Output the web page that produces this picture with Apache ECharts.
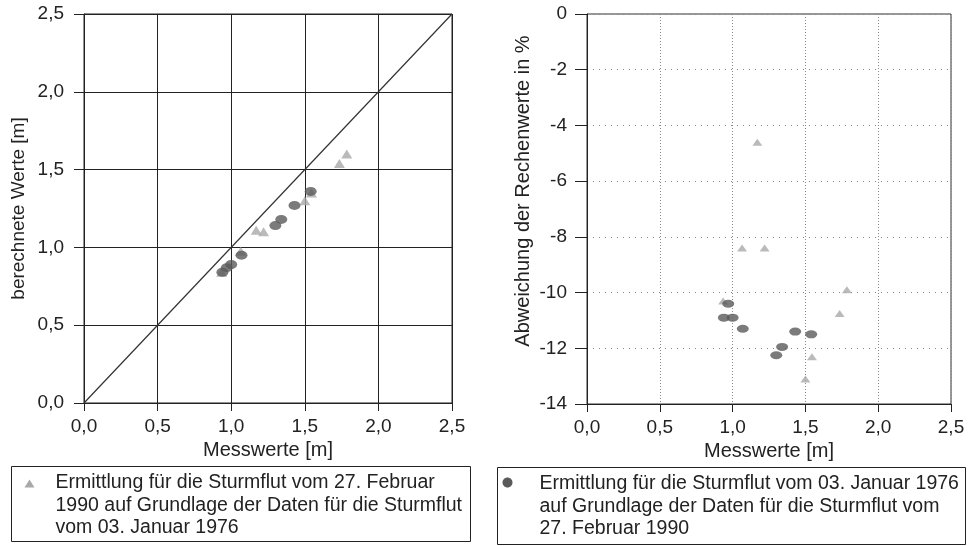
<!DOCTYPE html>
<html>
<head>
<meta charset="utf-8">
<script src="https://cdn.jsdelivr.net/npm/echarts@6/dist/echarts.min.js"></script>
<style>
html,body{margin:0;padding:0;background:#fff;}
#chart{width:972px;height:546px;}
</style>
</head>
<body>
<div id="chart"></div>
<script>
// ---- data ----
var xTicks = [0, 0.5, 1.0, 1.5, 2.0, 2.5];
var yTicksLeft = [0, 0.5, 1.0, 1.5, 2.0, 2.5];
var yTicksRight = [0, -2, -4, -6, -8, -10, -12, -14];

// Series 1976 (circles): Messwerte, berechnete Werte, Abweichung %
var mess1976 = [0.94, 0.97, 1.00, 1.07, 1.30, 1.34, 1.43, 1.54];
var calc1976 = [0.84, 0.87, 0.89, 0.95, 1.14, 1.18, 1.27, 1.36];
var dev1976  = [-10.9, -10.4, -10.9, -11.3, -12.25, -11.95, -11.4, -11.5];

// Series 1990 (triangles)
var mess1990 = [0.935, 1.065, 1.17, 1.22, 1.50, 1.545, 1.735, 1.785];
var calc1990 = [0.84, 0.975, 1.11, 1.10, 1.30, 1.35, 1.54, 1.60];
var dev1990  = [-10.3, -8.4, -4.6, -8.4, -13.1, -12.3, -10.75, -9.9];

// reference line 1:1
var diagX = [0, 2.5];
var diagY = [0, 2.5];

var legend1990 = ['Ermittlung für die Sturmflut vom 27. Februar', '1990 auf Grundlage der Daten für die Sturmflut', 'vom 03. Januar 1976'];
var legend1976 = ['Ermittlung für die Sturmflut vom 03. Januar 1976', 'auf Grundlage der Daten für die Sturmflut vom', '27. Februar 1990'];

function zip(a, b) { return a.map(function (v, i) { return [v, b[i]]; }); }

var FONT = '"Liberation Sans", Arial, sans-serif';
var fmt1 = function (v) { return v.toFixed(1).replace('.', ','); };

var chart = echarts.init(document.getElementById('chart'), null, {renderer: 'canvas'});

var option = {
  animation: false,
  backgroundColor: '#ffffff',
  textStyle: {fontFamily: FONT, color: '#222'},
  grid: [
    {left: 84, top: 14, width: 368, height: 389, show: true, borderColor: '#222', borderWidth: 1, backgroundColor: 'transparent'},
    {left: 587, top: 14, width: 364, height: 390, show: true, borderColor: '#333', borderWidth: 1, backgroundColor: 'transparent'}
  ],
  xAxis: [
    {
      gridIndex: 0, type: 'value', min: 0, max: 2.5, interval: 0.5,
      name: 'Messwerte [m]', nameLocation: 'middle', nameGap: 34,
      nameTextStyle: {fontSize: 20, color: '#222', fontFamily: FONT},
      axisLine: {onZero: false, lineStyle: {color: '#222', width: 1}},
      axisTick: {show: true, length: 8, lineStyle: {color: '#222'}},
      axisLabel: {formatter: fmt1, fontSize: 19, color: '#222', margin: 14, fontFamily: FONT, showMaxLabel: true},
      splitLine: {show: true, lineStyle: {color: '#222', width: 1}}
    },
    {
      gridIndex: 1, type: 'value', min: 0, max: 2.5, interval: 0.5,
      name: 'Messwerte [m]', nameLocation: 'middle', nameGap: 34,
      nameTextStyle: {fontSize: 20, color: '#222', fontFamily: FONT},
      axisLine: {onZero: false, lineStyle: {color: '#222', width: 1}},
      axisTick: {show: true, length: 8, lineStyle: {color: '#222'}},
      axisLabel: {formatter: fmt1, fontSize: 19, color: '#222', margin: 14, fontFamily: FONT, showMaxLabel: true},
      splitLine: {show: true, lineStyle: {color: '#888', width: 1, type: [1, 2]}}
    }
  ],
  yAxis: [
    {
      gridIndex: 0, type: 'value', min: 0, max: 2.5, interval: 0.5,
      name: 'berechnete Werte [m]', nameLocation: 'middle', nameGap: 56,
      nameTextStyle: {fontSize: 19, color: '#222', fontFamily: FONT},
      axisLine: {onZero: false, lineStyle: {color: '#222', width: 1}},
      axisTick: {show: true, length: 10, lineStyle: {color: '#222'}},
      axisLabel: {formatter: fmt1, fontSize: 19, color: '#222', margin: 20, fontFamily: FONT},
      splitLine: {show: true, lineStyle: {color: '#222', width: 1}}
    },
    {
      gridIndex: 1, type: 'value', min: -14, max: 0, interval: 2,
      name: 'Abweichung der Rechenwerte in %', nameLocation: 'middle', nameGap: 54,
      nameTextStyle: {fontSize: 20, color: '#222', fontFamily: FONT, padding: [0, 0, 0, 36]},
      axisLine: {onZero: false, lineStyle: {color: '#222', width: 1}},
      axisTick: {show: true, length: 12, lineStyle: {color: '#222'}},
      axisLabel: {fontSize: 19, color: '#222', margin: 20, fontFamily: FONT},
      splitLine: {show: true, lineStyle: {color: '#888', width: 1, type: [1, 5]}}
    }
  ],
  series: [
    {
      name: '1:1', type: 'line', xAxisIndex: 0, yAxisIndex: 0,
      data: zip(diagX, diagY), symbol: 'none', silent: true,
      lineStyle: {color: '#333', width: 1.2}, z: 3
    },
    {
      name: 'Sturmflut 27. Februar 1990', type: 'scatter', xAxisIndex: 0, yAxisIndex: 0,
      data: zip(mess1990, calc1990), symbol: 'triangle', symbolSize: [11, 9],
      itemStyle: {color: '#a9a9a9'}, z: 4
    },
    {
      name: 'Sturmflut 03. Januar 1976', type: 'scatter', xAxisIndex: 0, yAxisIndex: 0,
      data: zip(mess1976, calc1976), symbol: 'circle', symbolSize: [12, 9],
      itemStyle: {color: '#5a5a5a'}, z: 5
    },
    {
      name: 'Sturmflut 27. Februar 1990', type: 'scatter', xAxisIndex: 1, yAxisIndex: 1,
      data: zip(mess1990, dev1990), symbol: 'triangle', symbolSize: [10, 7],
      itemStyle: {color: '#a9a9a9'}, z: 4
    },
    {
      name: 'Sturmflut 03. Januar 1976', type: 'scatter', xAxisIndex: 1, yAxisIndex: 1,
      data: zip(mess1976, dev1976), symbol: 'circle', symbolSize: [12, 8],
      itemStyle: {color: '#5a5a5a'}, z: 5
    }
  ],
  graphic: [
    {
      type: 'group', left: 11, top: 466,
      children: [
        {type: 'rect', shape: {x: 0, y: 0, width: 459, height: 75}, style: {fill: '#fff', stroke: '#222', lineWidth: 1}},
        {type: 'polygon', shape: {points: [[13, 21], [23, 21], [18, 13]]}, style: {fill: '#a9a9a9'}},
        {type: 'text', left: 44, top: 5, style: {text: legend1990.join('\n'), font: '19.5px ' + FONT, lineHeight: 22.5, fill: '#222'}}
      ]
    },
    {
      type: 'group', left: 497, top: 467,
      children: [
        {type: 'rect', shape: {x: 0, y: 0, width: 468, height: 77}, style: {fill: '#fff', stroke: '#222', lineWidth: 1}},
        {type: 'ellipse', shape: {cx: 10, cy: 15, rx: 5, ry: 5}, style: {fill: '#5a5a5a'}},
        {type: 'text', left: 42, top: 5, style: {text: legend1976.join('\n'), font: '19.5px ' + FONT, lineHeight: 22.5, fill: '#222'}}
      ]
    }
  ]
};
chart.setOption(option);
</script>
</body>
</html>
